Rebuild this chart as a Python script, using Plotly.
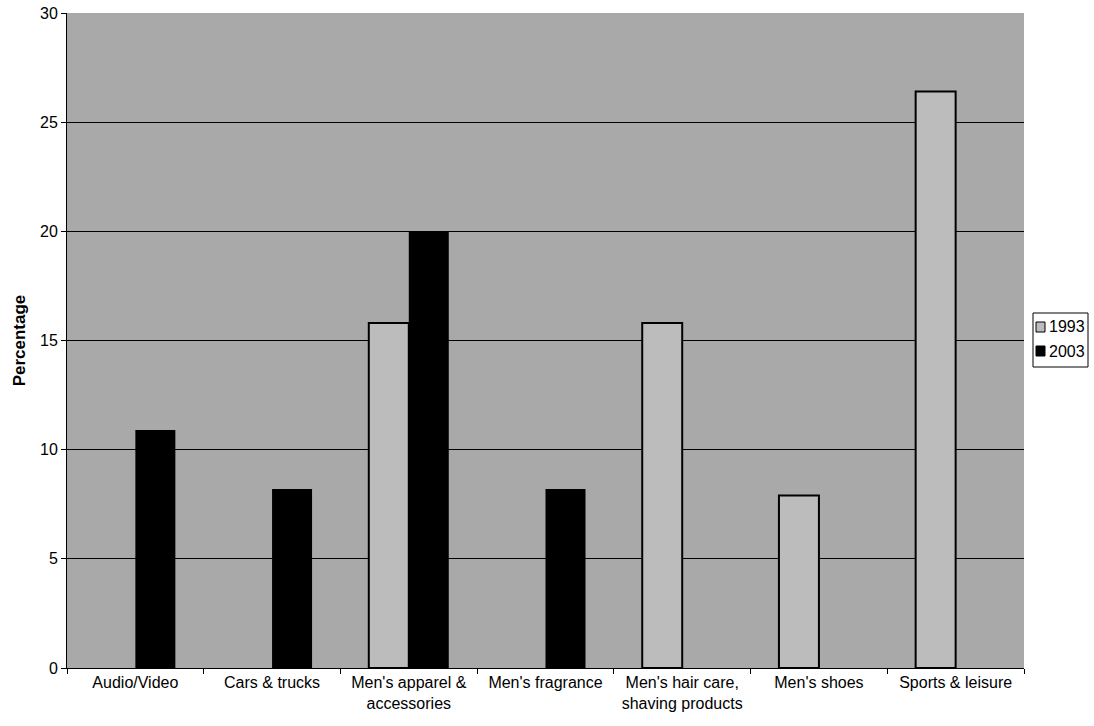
import plotly.graph_objects as go

categories = [
    "Audio/Video",
    "Cars & trucks",
    "Men's apparel &<br>accessories",
    "Men's fragrance",
    "Men's hair care,<br>shaving products",
    "Men's shoes",
    "Sports & leisure",
]
values_1993 = [None, None, 15.8, None, 15.8, 7.9, 26.4]
values_2003 = [10.9, 8.2, 20.0, 8.2, None, None, None]
series_names = ["1993", "2003"]
series_fill = ["#bcbcbc", "black"]

font_family = "Liberation Sans, Arial, sans-serif"

# plot area in pixels: left 67, right 1024, top 13, bottom 668
PL, PR, PT, PB = 67, 1024, 13, 668


def px_x(px):
    return (px - PL) / (PR - PL)


def px_y(py):
    return (PB - py) / (PB - PT)


fig = go.Figure()
fig.add_trace(go.Bar(
    name=series_names[0], x=categories, y=values_1993,
    marker=dict(color=series_fill[0], line=dict(color="black", width=2)),
))
fig.add_trace(go.Bar(
    name=series_names[1], x=categories, y=values_2003,
    marker=dict(color=series_fill[1], line=dict(color="black", width=0)),
))

# compact boxed legend to the right of the plot
shapes = [dict(
    type="rect", xref="paper", yref="paper",
    x0=px_x(1033), x1=px_x(1088), y0=px_y(367), y1=px_y(313),
    line=dict(color="black", width=1), fillcolor="white", layer="above",
)]
annotations = []
for i, (name, fill) in enumerate(zip(series_names, series_fill)):
    cy = 327 + i * 24
    shapes.append(dict(
        type="rect", xref="paper", yref="paper",
        x0=px_x(1036), x1=px_x(1045), y0=px_y(cy + 5), y1=px_y(cy - 5),
        line=dict(color="black", width=1), fillcolor=fill, layer="above",
    ))
    annotations.append(dict(
        xref="paper", yref="paper", x=px_x(1047), y=px_y(cy),
        xanchor="left", yanchor="middle", text=name, showarrow=False,
        font=dict(size=16, color="black"),
    ))

fig.update_layout(
    width=1094, height=726,
    margin=dict(l=PL, r=1094 - PR, t=PT, b=726 - PB, autoexpand=False),
    paper_bgcolor="white",
    plot_bgcolor="#a9a9a9",
    barmode="group",
    bargap=0.415,
    bargroupgap=0,
    font=dict(family=font_family, size=16, color="black"),
    showlegend=False,
    shapes=shapes,
    annotations=annotations,
)
fig.update_xaxes(
    automargin=False,
    showline=True, linecolor="black", linewidth=1,
    ticks="outside", tickson="boundaries", ticklen=5, tickcolor="black",
    showgrid=False, mirror=False,
)
fig.update_yaxes(
    automargin=False,
    range=[0, 30], dtick=5,
    showline=True, linecolor="black", linewidth=1,
    ticks="outside", ticklen=5, tickcolor="black",
    showgrid=True, gridcolor="black", gridwidth=1,
    zeroline=False,
    title=dict(text="<b>Percentage</b>", font=dict(size=17), standoff=10),
)

fig.write_html("out.html")
